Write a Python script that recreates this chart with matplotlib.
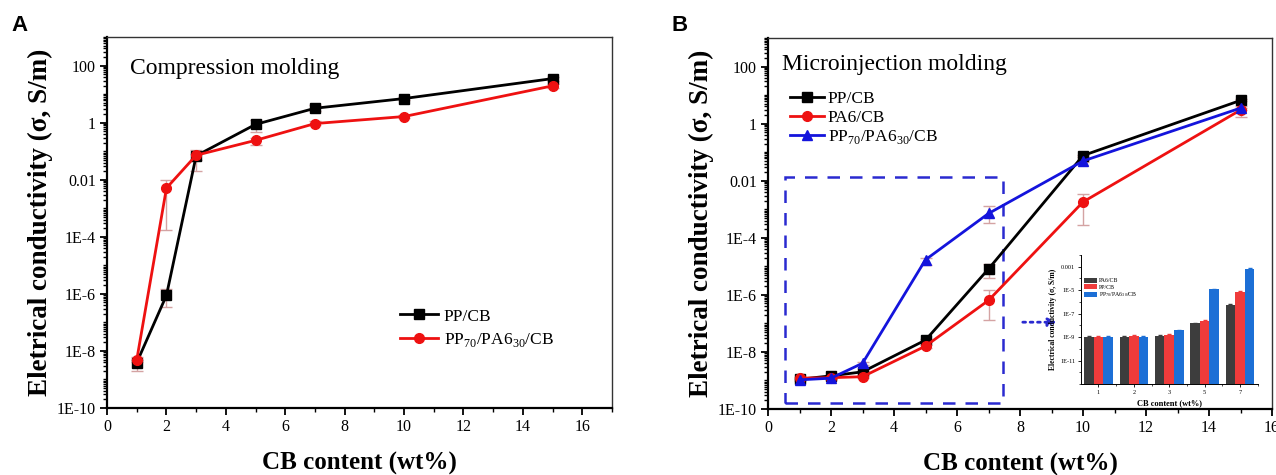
import matplotlib
matplotlib.use("Agg")
import matplotlib.pyplot as plt
import numpy as np
from matplotlib.ticker import FixedLocator, LogLocator, MultipleLocator, NullFormatter
from matplotlib.patches import Rectangle

plt.rcParams['font.family'] = ['Liberation Serif', 'DejaVu Serif']
plt.rcParams['mathtext.fontset'] = 'custom'
plt.rcParams['mathtext.rm'] = 'Liberation Serif'

# ---------------- data ----------------
cb_content = [1, 2, 3, 5, 7, 10, 15]

# Panel A: compression molding
a_pp = [3.9e-9, 8.9e-7, 0.069, 0.87, 3.2, 7.0, 35]
a_pp_lo = [2.0e-9, 3.5e-7, 0.02, 0.46, 2.5, 6.0, 30]
a_pp_hi = [5.0e-9, 1.5e-6, 0.08, 1.2, 4.0, 8.0, 40]
a_blend = [4.9e-9, 5.1e-3, 0.072, 0.24, 0.93, 1.64, 19.5]
a_blend_lo = [4.0e-9, 1.8e-4, 0.05, 0.17, 0.8, 1.5, 17]
a_blend_hi = [6.0e-9, 1.0e-2, 0.11, 0.30, 1.1, 1.8, 22]

# Panel B: microinjection molding
b_pp = [1.1e-9, 1.45e-9, 2.0e-9, 2.6e-8, 8.1e-6, 0.076, 6.5]
b_pp_lo = [1.0e-9, 1.3e-9, 1.8e-9, 2.3e-8, 4.0e-6, 0.07, 6.0]
b_pp_hi = [1.2e-9, 1.6e-9, 2.2e-9, 2.9e-8, 1.2e-5, 0.082, 7.0]
b_pa6 = [1.2e-9, 1.25e-9, 1.35e-9, 1.6e-8, 6.4e-7, 1.8e-3, 3.0]
b_pa6_lo = [1.1e-9, 1.15e-9, 1.2e-9, 1.4e-8, 1.3e-7, 2.7e-4, 1.7]
b_pa6_hi = [1.3e-9, 1.35e-9, 1.5e-9, 1.8e-8, 1.5e-6, 3.5e-3, 3.5]
b_blend = [1.05e-9, 1.2e-9, 4.0e-9, 1.7e-5, 7.1e-4, 0.049, 3.5]
b_blend_lo = [0.95e-9, 1.1e-9, 3.5e-9, 1.1e-5, 3.2e-4, 0.045, 3.0]
b_blend_hi = [1.15e-9, 1.3e-9, 4.5e-9, 2.0e-5, 1.3e-3, 0.053, 4.0]

# Inset bars
inset_cats = ['1', '2', '3', '5', '7']
inset_pa6 = [1.0e-9, 1.05e-9, 1.2e-9, 1.5e-8, 5.6e-7]
inset_pp = [1.0e-9, 1.2e-9, 1.5e-9, 2.3e-8, 6.8e-6]
inset_blend = [1.0e-9, 1.1e-9, 3.8e-9, 1.2e-5, 6.5e-4]

ytick_vals = [1e-10, 1e-8, 1e-6, 1e-4, 1e-2, 1, 100]
ytick_labels = ['1E-10', '1E-8', '1E-6', '1E-4', '0.01', '1', '100']
xtick_vals = [0, 2, 4, 6, 8, 10, 12, 14, 16]
inset_ytick_vals = [1e-11, 1e-9, 1e-7, 1e-5, 1e-3]
inset_ytick_labels = ['1E-11', '1E-9', '1E-7', '1E-5', '0.001']

ERR = '#d4a3a3'

fig = plt.figure(figsize=(12.76, 4.75), dpi=100)

def style_axis(ax, xmax):
    ax.set_yscale('log')
    ax.set_ylim(1e-10, 1e3)
    ax.set_xlim(0, xmax)
    ax.yaxis.set_major_locator(FixedLocator(ytick_vals))
    ax.set_yticklabels(ytick_labels)
    ax.yaxis.set_minor_locator(LogLocator(base=10, subs=np.arange(1, 10), numticks=100))
    ax.yaxis.set_minor_formatter(NullFormatter())
    ax.set_xticks(xtick_vals)
    ax.set_xticklabels([str(v) for v in xtick_vals])
    ax.xaxis.set_minor_locator(MultipleLocator(1))
    ax.tick_params(axis='both', which='major', direction='out', length=5, width=1.3,
                   labelsize=11.5, pad=3)
    ax.tick_params(axis='both', which='minor', direction='out', length=3, width=1.0)
    ax.tick_params(top=False, right=False, which='both')
    for s in ['left', 'bottom']:
        ax.spines[s].set_linewidth(1.6)
    for s in ['top', 'right']:
        ax.spines[s].set_linewidth(1.0)
        ax.spines[s].set_color('#333333')
    ax.set_xlabel('CB content (wt%)', fontsize=18, fontweight='bold', labelpad=12)
    ax.set_ylabel('Eletrical conductivity (σ, S/m)', fontsize=19.5, fontweight='bold', labelpad=3)

def series(ax, y, lo, hi, color, marker, label):
    y = np.array(y); lo = np.array(lo); hi = np.array(hi)
    ax.errorbar(cb_content, y, yerr=[y - lo, hi - y], fmt='none', ecolor=ERR,
                elinewidth=1.0, capsize=4, capthick=1.0, zorder=2)
    ax.plot(cb_content, y, color=color, marker=marker, markersize=7, linewidth=2.0,
            label=label, zorder=3)

# ---------------- Panel A ----------------
axA = fig.add_axes([0.0839, 0.141, 0.3957, 0.781])
style_axis(axA, 17)
series(axA, a_pp, a_pp_lo, a_pp_hi, 'black', 's', 'PP/CB')
series(axA, a_blend, a_blend_lo, a_blend_hi, '#ee1111', 'o', r'PP$_{70}$/PA6$_{30}$/CB')
axA.text(0.045, 0.915, 'Compression molding', transform=axA.transAxes, fontsize=17,
         va='center', ha='left')
axA.legend(loc='lower right', bbox_to_anchor=(0.915, 0.118), frameon=False,
           fontsize=12.5, handlelength=2.2, handletextpad=0.3, labelspacing=0.35)
fig.text(0.009, 0.935, 'A', fontsize=16, fontweight='bold', family='Liberation Sans')

# ---------------- Panel B ----------------
axB = fig.add_axes([0.6019, 0.139, 0.3950, 0.781])
style_axis(axB, 16)
series(axB, b_pp, b_pp_lo, b_pp_hi, 'black', 's', 'PP/CB')
series(axB, b_pa6, b_pa6_lo, b_pa6_hi, '#ee1111', 'o', 'PA6/CB')
series(axB, b_blend, b_blend_lo, b_blend_hi, '#1414dc', '^', r'PP$_{70}$/PA6$_{30}$/CB')
axB.text(0.027, 0.928, 'Microinjection molding', transform=axB.transAxes, fontsize=17,
         va='center', ha='left')
axB.legend(loc='upper left', bbox_to_anchor=(0.012, 0.9), frameon=False,
           fontsize=12.5, handlelength=2.0, handletextpad=0.2, labelspacing=0.15)
# dashed zoom rectangle
axB.add_patch(Rectangle((0.55, 1.6e-10), 7.45 - 0.55, 0.013 - 1.6e-10, fill=False,
                        edgecolor='#2a2ad0', linestyle=(0, (5, 4)), linewidth=1.8, zorder=1))
# dotted arrow
axB.annotate('', xy=(9.25, 1.1e-7), xytext=(8.0, 1.1e-7),
             arrowprops=dict(arrowstyle='-|>', color='#2a2ad0', linestyle=':',
                             linewidth=2.0, mutation_scale=12))
fig.text(0.526, 0.935, 'B', fontsize=16, fontweight='bold', family='Liberation Sans')

# ---------------- Inset ----------------
axI = fig.add_axes([0.847, 0.1916, 0.1387, 0.2716])
xi = np.arange(len(inset_cats))
bw = 0.27
bottom = 1e-13
cols = ['#3d3d3d', '#ef3b3b', '#1c6fd6']
names = ['PA6/CB', 'PP/CB', r'PP$_{70}$/PA6$_{30}$/CB']
for k, vals in enumerate([inset_pa6, inset_pp, inset_blend]):
    vals = np.array(vals)
    axI.bar(xi + (k - 1) * bw, vals - bottom, bottom=bottom, width=bw, color=cols[k],
            yerr=[vals * 0.08, vals * 0.15], error_kw=dict(ecolor=cols[k], elinewidth=0.6,
                                                           capsize=1.2), label=names[k])
axI.set_yscale('log')
axI.set_ylim(1e-13, 1e-2)
axI.set_xlim(-0.5, len(inset_cats) - 0.5)
axI.yaxis.set_major_locator(FixedLocator(inset_ytick_vals))
axI.set_yticklabels(inset_ytick_labels)
axI.yaxis.set_minor_locator(LogLocator(base=10, subs=(1.0,), numticks=30))
axI.yaxis.set_minor_formatter(NullFormatter())
axI.set_xticks(xi)
axI.set_xticklabels(inset_cats)
axI.set_xticks(xi + 0.5, minor=True)
axI.tick_params(axis='both', which='major', labelsize=4.5, length=2.5, width=0.6, pad=1.5)
axI.tick_params(axis='both', which='minor', length=1.5, width=0.5)
for s in ['top', 'right']:
    axI.spines[s].set_visible(False)
for s in ['left', 'bottom']:
    axI.spines[s].set_linewidth(0.7)
axI.set_xlabel('CB content (wt%)', fontsize=6, fontweight='bold', labelpad=3)
axI.set_ylabel('Electrical conductivity (σ, S/m)', fontsize=5.5, fontweight='bold', labelpad=2)
axI.legend(loc='upper left', bbox_to_anchor=(0.0, 0.85), frameon=False, fontsize=4.2,
           handlelength=2.2, handleheight=1.0, handletextpad=0.3, labelspacing=0.1,
           borderaxespad=0.2)

fig.savefig('out.png', dpi=100)
